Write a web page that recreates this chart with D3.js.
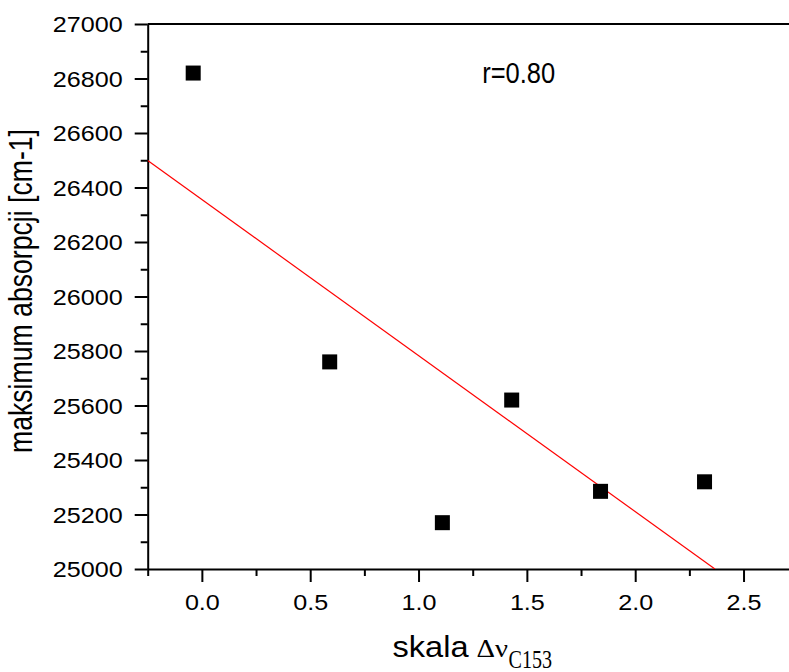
<!DOCTYPE html>
<html>
<head>
<meta charset="utf-8">
<script src="https://cdn.jsdelivr.net/npm/d3@7"></script>
<style>
  body { margin: 0; background: #fff; }
  svg { display: block; }
  .axis path, .axis line { stroke: #000; stroke-width: 2; }
  .axis text { font-family: "Liberation Sans", Arial, sans-serif; font-size: 21.5px; fill: #000; }
</style>
</head>
<body>
<div id="chart"></div>
<script>

// data
var xValues = [-0.04, 0.59, 1.11, 1.43, 1.84, 2.32];
var yValues = [26820, 25760, 25170, 25620, 25285, 25320];

// red fit line, two end points
var fitX = [-0.25, 2.368];
var fitY = [26499, 25000];

var xTicks = [0.0, 0.5, 1.0, 1.5, 2.0, 2.5];
var xMinor = [-0.25, 0.25, 0.75, 1.25, 1.75, 2.25, 2.75];
var yTicks = [25000, 25200, 25400, 25600, 25800, 26000, 26200, 26400, 26600, 26800, 27000];
var yMinor = [25100, 25300, 25500, 25700, 25900, 26100, 26300, 26500, 26700, 26900];

var corrLabel = "r=0.80";


/*
 scatter plot with the linear fit
*/
function draw_scatter() {

  var margin = {top: 24, left: 147.7},
      width = 650,
      height = 545;

  var x = d3.scaleLinear().domain([-0.25, 2.75]).range([0, width]);
  var y = d3.scaleLinear().domain([25000, 27000]).range([height, 0]);

  var svg = d3.select("#chart").append("svg")
      .attr("width", 789)
      .attr("height", 672);

  var g = svg.append("g")
      .attr("transform", "translate(" + margin.left + "," + margin.top + ")");

  g.append("clipPath")
      .attr("id", "plotclip")
    .append("rect")
      .attr("width", width)
      .attr("height", height);

  // top frame line
  g.append("line")
      .attr("x1", 0).attr("x2", width)
      .attr("y1", 0).attr("y2", 0)
      .attr("stroke", "#000")
      .attr("stroke-width", 2);

  // minor ticks
  g.append("g")
      .attr("class", "axis")
      .attr("transform", "translate(0," + height + ")")
      .call(d3.axisBottom(x).tickValues(xMinor).tickSize(7).tickFormat(""))
      .select(".domain").remove();
  g.append("g")
      .attr("class", "axis")
      .call(d3.axisLeft(y).tickValues(yMinor).tickSize(7).tickFormat(""))
      .select(".domain").remove();

  // x axis
  var xa = g.append("g")
      .attr("class", "axis")
      .attr("transform", "translate(0," + height + ")")
      .call(d3.axisBottom(x).tickValues(xTicks).tickSize(13).tickSizeOuter(0).tickFormat(d3.format(".1f")));
  xa.selectAll("text")
      .attr("y", 41.5)
      .attr("dy", 0)
      .attr("transform", "scale(1.17,1)");

  // y axis
  var ya = g.append("g")
      .attr("class", "axis")
      .call(d3.axisLeft(y).tickValues(yTicks).tickSize(13).tickSizeOuter(0).tickFormat(d3.format("d")));
  ya.selectAll("text")
      .attr("x", -25 / 1.17)
      .attr("dy", "0.35em")
      .attr("transform", "scale(1.17,1)");

  // fit line
  var fit = fitX.map(function(d, i) { return [d, fitY[i]]; });
  g.append("path")
      .datum(fit)
      .attr("clip-path", "url(#plotclip)")
      .attr("fill", "none")
      .attr("stroke", "#ff0000")
      .attr("stroke-width", 1.2)
      .attr("d", d3.line()
          .x(function(d) { return x(d[0]); })
          .y(function(d) { return y(d[1]); }));

  // square markers
  var size = 15;
  g.selectAll("rect.pt")
      .data(xValues)
    .enter().append("rect")
      .attr("class", "pt")
      .attr("x", function(d) { return x(d) - size / 2; })
      .attr("y", function(d, i) { return y(yValues[i]) - size / 2; })
      .attr("width", size)
      .attr("height", size)
      .attr("fill", "#000");

  // correlation label
  g.append("text")
      .attr("x", 334.5)
      .attr("y", 59.3)
      .attr("font-family", "Liberation Sans, Arial, sans-serif")
      .attr("font-size", 29)
      .attr("textLength", 73)
      .attr("lengthAdjust", "spacingAndGlyphs")
      .text(corrLabel);

  // axis titles
  svg.append("text")
      .attr("x", 392.5)
      .attr("y", 657.3)
      .attr("font-family", "Liberation Sans, Arial, sans-serif")
      .attr("font-size", 29)
      .attr("textLength", 76)
      .attr("lengthAdjust", "spacingAndGlyphs")
      .text("skala");
  svg.append("text")
      .attr("x", 476.5)
      .attr("y", 657.3)
      .attr("font-family", "Liberation Serif, Times New Roman, serif")
      .attr("font-size", 26)
      .attr("textLength", 31.5)
      .attr("lengthAdjust", "spacingAndGlyphs")
      .text("\u0394\u03bd");
  svg.append("text")
      .attr("x", 508.5)
      .attr("y", 667.7)
      .attr("font-family", "Liberation Serif, Times New Roman, serif")
      .attr("font-size", 25)
      .attr("textLength", 43.5)
      .attr("lengthAdjust", "spacingAndGlyphs")
      .text("C153");

  svg.append("text")
      .attr("transform", "translate(32,291) scale(1.2,1) rotate(-90)")
      .attr("text-anchor", "middle")
      .attr("font-family", "Liberation Sans, Arial, sans-serif")
      .attr("font-size", 27)
      .attr("textLength", 324)
      .attr("lengthAdjust", "spacingAndGlyphs")
      .text("maksimum absorpcji [cm-1]");
}

draw_scatter();

</script>
</body>
</html>
